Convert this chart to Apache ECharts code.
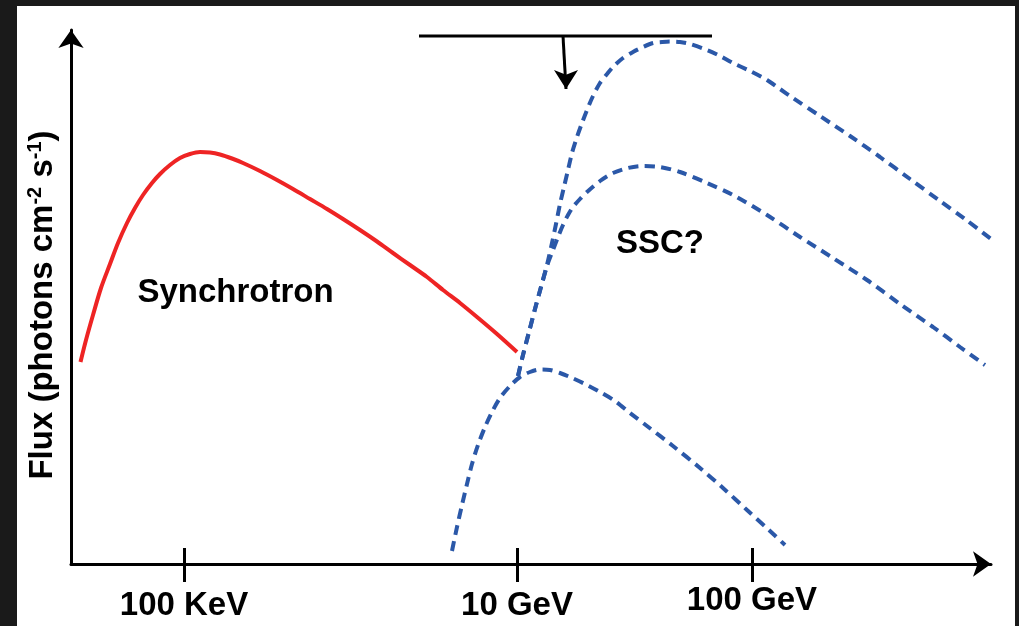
<!DOCTYPE html>
<html><head><meta charset="utf-8">
<script src="https://cdn.jsdelivr.net/npm/echarts@6/dist/echarts.min.js"></script>
<style>html,body{margin:0;padding:0;background:#1a1a1a}#c{width:1019px;height:626px}</style>
</head><body><div id="c"></div>
<script>
// Schematic units: x and y are arbitrary (log-energy / log-flux like) positions
const tickValues = [113, 446, 681];
const tickLabels = ['100 KeV', '10 GeV', '100 GeV'];

const synchrotron = [[9.5,202],[15,224],[22,249],[30,276],[39,300],[47,321],[56,341],[64,356],[72,369],[81,381],[89,390],[99,399],[109,406],[119,410],[129,412],[139,411.5],[149,409.5],[161,405.5],[172,401],[189,393],[206,384],[222,375],[239,365],[256,355],[272,345],[289,334],[306,322.5],[322,311],[339,299],[356,287],[372,274],[389,261],[406,247],[426,230],[446,212]];

const sscLow = [[381,13],[386,37],[391,59],[396,80],[401,100],[407,119],[414,137],[421,152],[429,166],[439,178],[449,187],[459,192],[469,194.5],[479,194],[489,191],[499,187],[514,180],[529,172],[544,163],[559,151],[576,138],[602,118],[629,96],[652,76],[676,54],[699,33],[714,19]];

const sscMid = [[447,188],[452,209],[458,232],[464,255],[470,277],[476,298],[482,314],[487,327],[492,339],[497,349],[502,357],[509,365],[516,372],[529,383],[542,391],[557,396],[572,398],[589,397],[609,392],[636,381],[662,369],[696,349],[729,327],[762,306],[796,284],[829,260],[862,237],[889,217],[914,199]];

const sscHigh = [[447,188],[452,209],[458,232],[464,255],[470,277],[476,299],[481,321],[485,340],[489,360],[493,377],[497,394],[501,411],[506,427],[511,441],[516,454],[522,468],[529,481],[536,490],[542,497],[552,506],[562,512],[572,517],[582,521],[591,522],[599,522.5],[609,522],[619,520],[636,514],[649,508],[662,501],[679,493],[696,484],[709,475],[722,466],[749,448],[779,428],[809,407],[839,385],[869,363],[894,345],[920,325]];

const limitBar = [[348,528],[641,528]];
const limitArrow = [[492,528],[495,475]];

const annoText = ['Synchrotron', 'SSC?'];
const annoX = [164.5, 589];
const annoY = [271, 320];

const FONT = '"Liberation Sans", Arial, Helvetica, sans-serif';
const chart = echarts.init(document.getElementById('c'));
const blueStyle = {color: '#2b58a8', width: 4, type: [10, 6.5], cap: 'butt'};

chart.setOption({
  backgroundColor: '#1a1a1a',
  animation: false,
  graphic: [{type: 'rect', z: -10, shape: {x: 17, y: 6, width: 998, height: 620}, style: {fill: '#ffffff'}}],
  grid: {left: 71, right: 28, top: 30, bottom: 62, containLabel: false},
  xAxis: [{
    type: 'value', min: 0, max: 920, position: 'bottom',
    axisLine: {show: true, lineStyle: {color: '#000', width: 3}, symbol: ['none', 'arrow'], symbolSize: [19, 18], symbolOffset: [0, 0]},
    axisTick: {show: true, inside: false, length: 18, lineStyle: {color: '#000', width: 3}, customValues: tickValues},
    axisLabel: {
      show: true, margin: 20, customValues: tickValues,
      formatter: v => {
        const i = tickValues.indexOf(v);
        return i === 2 ? '{b|' + tickLabels[i] + '}' : '{a|' + tickLabels[i] + '}';
      },
      rich: {
        a: {fontFamily: FONT, fontWeight: 'bold', fontSize: 33, color: '#000', lineHeight: 34, padding: [10, 0, 0, 0]},
        b: {fontFamily: FONT, fontWeight: 'bold', fontSize: 33, color: '#000', lineHeight: 34}
      }
    },
    splitLine: {show: false}
  }, {
    type: 'value', min: 0, max: 920, position: 'bottom', offset: 0,
    axisLine: {show: false},
    axisTick: {show: true, inside: true, length: 16, lineStyle: {color: '#000', width: 3}, customValues: tickValues},
    axisLabel: {show: false},
    splitLine: {show: false}
  }],
  yAxis: {
    type: 'value', min: 0, max: 534,
    name: 'Flux (photons cm{sup|-2} s{sup|-1})',
    nameLocation: 'middle', nameRotate: 90, nameGap: 11,
    nameTextStyle: {
      fontFamily: FONT, fontWeight: 'bold', fontSize: 33, color: '#000', padding: [0, 16, 0, 0],
      rich: {sup: {fontFamily: FONT, fontWeight: 'bold', fontSize: 20, color: '#000', padding: [0, 0, 15, 0]}}
    },
    axisLine: {show: true, lineStyle: {color: '#000', width: 3}, symbol: ['none', 'arrow'], symbolSize: [19, 18], symbolOffset: [0, 0]},
    axisTick: {show: false}, axisLabel: {show: false}, splitLine: {show: false}
  },
  series: [
    {type: 'line', name: 'SSC low', data: sscLow, smooth: 0.3, showSymbol: false, lineStyle: blueStyle, z: 2},
    {type: 'line', name: 'SSC mid', data: sscMid, smooth: 0.3, showSymbol: false, lineStyle: blueStyle, z: 2},
    {type: 'line', name: 'SSC high', data: sscHigh, smooth: 0.3, showSymbol: false, lineStyle: blueStyle, z: 2, clip: false},
    {type: 'line', name: 'Synchrotron', data: synchrotron, smooth: 0.3, showSymbol: false, lineStyle: {color: '#ee2424', width: 4}, z: 3},
    {type: 'line', name: 'limit', data: limitBar, showSymbol: false, lineStyle: {color: '#000', width: 3}, z: 4, clip: false},
    {type: 'line', name: 'limitArrow', showSymbol: true, symbol: 'none', clip: false,
      data: [{value: limitArrow[0], symbol: 'none'}, {value: limitArrow[1], symbol: 'arrow', symbolSize: [18, 19], symbolRotate: 180, itemStyle: {color: '#000'}}],
      lineStyle: {color: '#000', width: 3}, itemStyle: {color: '#000'}, z: 4},
    {type: 'scatter', name: 'labels', symbolSize: 0, z: 5, itemStyle: {opacity: 1},
      data: annoText.map((t, i) => ({name: t, value: [annoX[i], annoY[i]]})),
      label: {show: true, position: [0, 0], align: 'center', verticalAlign: 'middle', formatter: '{b}', fontFamily: FONT, fontWeight: 'bold', fontSize: 33, color: '#000', opacity: 1}
    }
  ]
});
</script></body></html>
